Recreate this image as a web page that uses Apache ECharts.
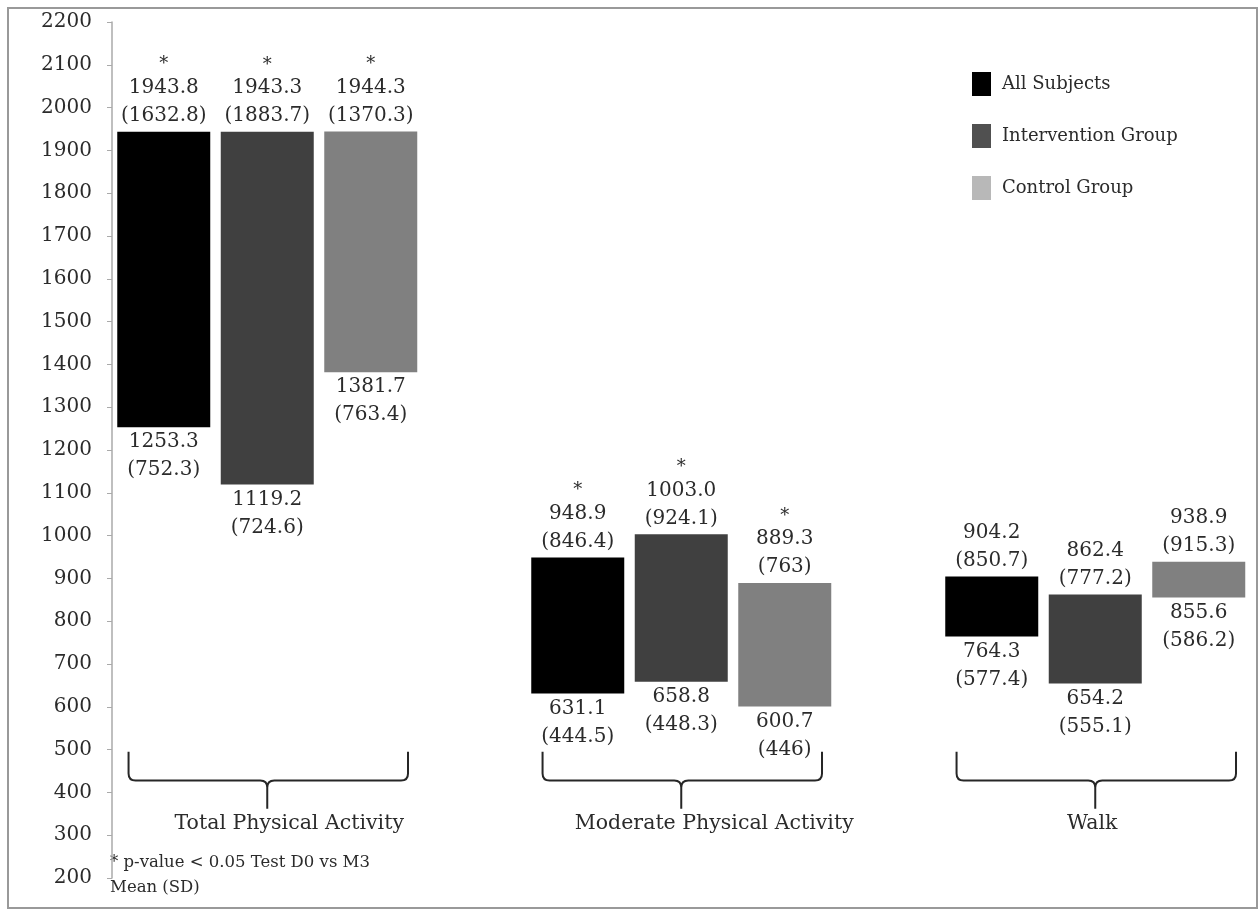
<!DOCTYPE html>
<html><head><meta charset="utf-8">
<script src="https://cdn.jsdelivr.net/npm/echarts@6/dist/echarts.min.js"></script>
<style>html,body{margin:0;padding:0;background:#fff}#c{width:1260px;height:912px}</style>
</head><body><div id="c"></div>
<script>
// ---- data ----
const groups = ['Total Physical Activity', 'Moderate Physical Activity', 'Walk'];
const seriesNames = ['All Subjects', 'Intervention Group', 'Control Group'];
const significant = [true, true, false];

const allLow = [1253.3, 631.1, 764.3];
const allLowSD = ['752.3', '444.5', '577.4'];
const allHigh = [1943.8, 948.9, 904.2];
const allHighSD = ['1632.8', '846.4', '850.7'];

const intLow = [1119.2, 658.8, 654.2];
const intLowSD = ['724.6', '448.3', '555.1'];
const intHigh = [1943.3, 1003.0, 862.4];
const intHighSD = ['1883.7', '924.1', '777.2'];

const ctlLow = [1381.7, 600.7, 855.6];
const ctlLowSD = ['763.4', '446', '586.2'];
const ctlHigh = [1944.3, 889.3, 938.9];
const ctlHighSD = ['1370.3', '763', '915.3'];

const yTicks = { min: 200, max: 2200, interval: 100 };

// ---- style ----
const FONT = 'DejaVu Serif';
const TEXT = '#2b2b2b';
const barColors = ['#000000', '#404040', '#808080'];
const legendColors = ['#000000', '#505050', '#b8b8b8'];
const braceLayout = { top: 495, mid: 428, bottom: 362, label: 326, left: -0.34, right: 0.36 };
const groupLabelDx = [22, 33, -3];

const lows = [allLow, intLow, ctlLow];
const lowSDs = [allLowSD, intLowSD, ctlLowSD];
const highs = [allHigh, intHigh, ctlHigh];
const highSDs = [allHighSD, intHighSD, ctlHighSD];

const nSlots = groups.length * 4 - 1;
const slots = Array.from({ length: nSlots }, (_, i) => 's' + i);
const slotOf = (g, s) => 4 * g + s;
const blank = () => new Array(nSlots).fill('-');

const baseData = blank();
const deltaData = seriesNames.map(() => blank());
groups.forEach((_, g) => {
  seriesNames.forEach((_, s) => {
    baseData[slotOf(g, s)] = lows[s][g];
    deltaData[s][slotOf(g, s)] = +(highs[s][g] - lows[s][g]).toFixed(1);
  });
});

const rich = {
  v: { fontFamily: FONT, fontSize: 20, lineHeight: 28, color: TEXT },
  s: { fontFamily: FONT, fontSize: 18, lineHeight: 18, color: TEXT }
};

const series = [{
  name: 'base', type: 'bar', stack: 'range', data: baseData, barWidth: 93,
  itemStyle: { color: 'transparent' }, silent: true,
  label: {
    show: true, position: 'insideTop', distance: 1, rich,
    formatter: p => {
      const g = Math.floor(p.dataIndex / 4), s = p.dataIndex % 4;
      return '{v|' + lows[s][g].toFixed(1) + '}\n{v|(' + lowSDs[s][g] + ')}';
    }
  }
}];
seriesNames.forEach((name, s) => {
  series.push({
    name, type: 'bar', stack: 'range', data: deltaData[s], barWidth: 93,
    itemStyle: { color: barColors[s] },
    label: {
      show: true, position: 'top', distance: 2, rich,
      formatter: p => {
        const g = Math.floor(p.dataIndex / 4);
        return (significant[g] ? '{s|*}\n' : '') + '{v|' + highs[s][g].toFixed(1) + '}\n{v|(' + highSDs[s][g] + ')}';
      }
    }
  });
});
series.push({
  name: 'braces', type: 'custom', silent: true, clip: false,
  data: groups.map((_, g) => [slotOf(g, 1), braceLayout.mid]),
  renderItem: (params, api) => {
    const g = params.dataIndex;
    const bw = api.size([1, 0])[0];
    const cx = api.coord([slotOf(g, 1), braceLayout.mid])[0];
    const lx = api.coord([slotOf(g, 0), braceLayout.mid])[0] + braceLayout.left * bw;
    const rx = api.coord([slotOf(g, 2), braceLayout.mid])[0] + braceLayout.right * bw;
    const yt = api.coord([0, braceLayout.top])[1];
    const ym = api.coord([0, braceLayout.mid])[1];
    const yb = api.coord([0, braceLayout.bottom])[1];
    const yl = api.coord([0, braceLayout.label])[1];
    const r = 7;
    const d = 'M' + lx + ' ' + yt + ' L' + lx + ' ' + (ym - r) + ' Q' + lx + ' ' + ym + ' ' + (lx + r) + ' ' + ym +
      ' L' + (cx - r) + ' ' + ym + ' Q' + cx + ' ' + ym + ' ' + cx + ' ' + (ym + r) + ' L' + cx + ' ' + yb +
      ' M' + rx + ' ' + yt + ' L' + rx + ' ' + (ym - r) + ' Q' + rx + ' ' + ym + ' ' + (rx - r) + ' ' + ym +
      ' L' + (cx + r) + ' ' + ym + ' Q' + cx + ' ' + ym + ' ' + cx + ' ' + (ym + r);
    return {
      type: 'group', children: [
        { type: 'path', shape: { pathData: d }, style: { fill: 'none', stroke: '#262626', lineWidth: 2 } },
        { type: 'text', x: cx + groupLabelDx[g], y: yl, style: { text: groups[g], font: '20.5px "' + FONT + '"', fill: TEXT, align: 'center', verticalAlign: 'middle' } }
      ]
    };
  }
});

const chart = echarts.init(document.getElementById('c'), null, { renderer: 'canvas' });
chart.setOption({
  animation: false,
  backgroundColor: '#fff',
  grid: { left: 112, right: 9.5, top: 22, bottom: 34, containLabel: false },
  xAxis: { type: 'category', data: slots, show: false },
  yAxis: {
    type: 'value', min: yTicks.min, max: yTicks.max, interval: yTicks.interval,
    axisLine: { show: true, lineStyle: { color: '#aaa', width: 1.5 } },
    axisTick: { show: true, length: 5, lineStyle: { color: '#aaa' } },
    axisLabel: { fontFamily: FONT, fontSize: 20, color: TEXT, margin: 20, formatter: v => String(v) },
    splitLine: { show: false }
  },
  legend: {
    orient: 'vertical', left: 967, top: 67, itemWidth: 19, itemHeight: 24, itemGap: 28, icon: 'rect',
    textStyle: { fontFamily: FONT, fontSize: 18, color: TEXT, padding: [0, 0, 0, 6] },
    data: seriesNames.map((n, s) => ({ name: n, itemStyle: { color: legendColors[s] } }))
  },
  graphic: [
    { type: 'rect', shape: { x: 8, y: 8, width: 1249, height: 900 }, style: { fill: 'none', stroke: '#999', lineWidth: 2 }, silent: true },
    { type: 'text', x: 110, y: 863, style: { text: '* p-value < 0.05 Test D0 vs M3', font: '16.5px "' + FONT + '"', fill: TEXT, verticalAlign: 'middle' } },
    { type: 'text', x: 110, y: 888, style: { text: 'Mean (SD)', font: '16.5px "' + FONT + '"', fill: TEXT, verticalAlign: 'middle' } }
  ],
  series
});
</script></body></html>
